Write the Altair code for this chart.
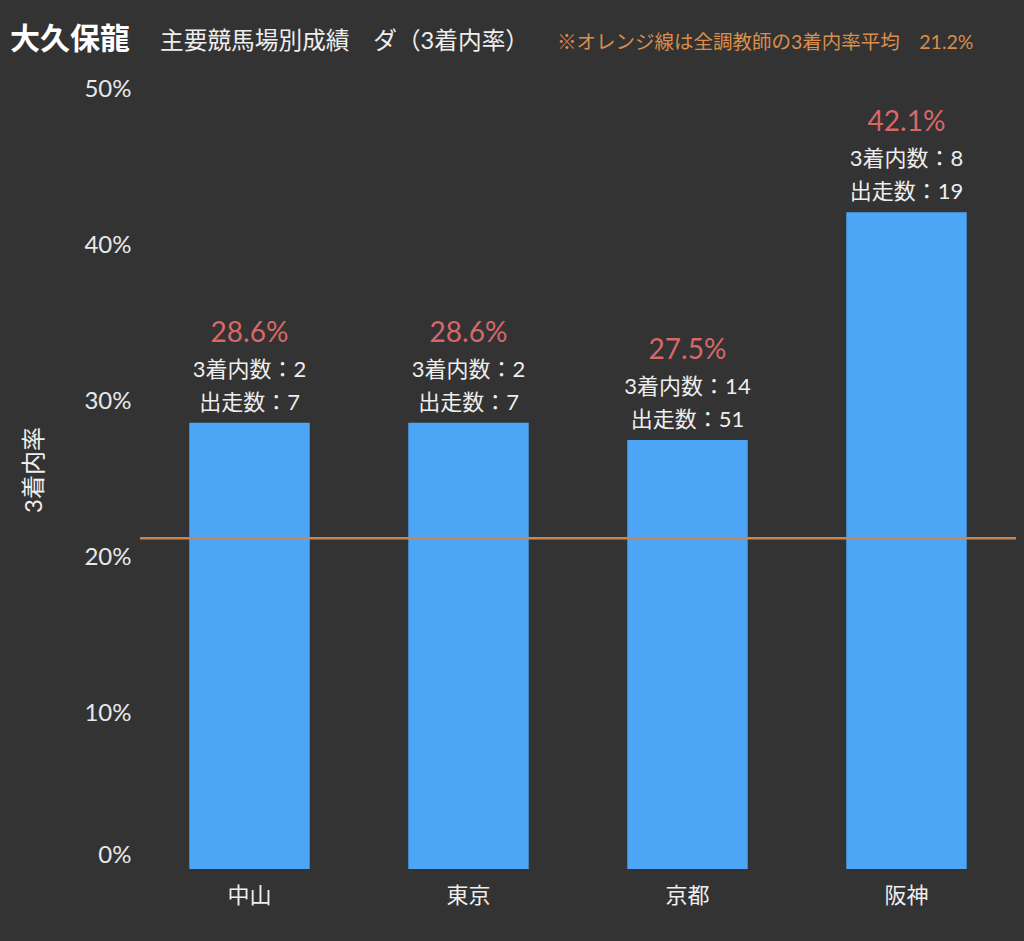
import altair as alt
import pandas as pd

venues = ["中山", "東京", "京都", "阪神"]
rates = [28.6, 28.6, 27.5, 42.1]
top3_counts = [2, 2, 14, 8]
start_counts = [7, 7, 51, 19]
overall_avg = 21.2

title_main = "大久保龍"
title_sub = "主要競馬場別成績　ダ（3着内率）"
note_text = "※オレンジ線は全調教師の3着内率平均　21.2%"
y_title = "3着内率"

FONT = "Lato, 'Noto Sans CJK JP', sans-serif"
BG = "#333333"

df = pd.DataFrame({
    "venue": venues,
    "rate": rates,
    "top3": top3_counts,
    "starts": start_counts,
})
df["rate_label"] = df["rate"].map(lambda v: f"{v:.1f}%")
df["top3_label"] = df["top3"].map(lambda v: f"3着内数：{v}")
df["starts_label"] = df["starts"].map(lambda v: f"出走数：{v}")

x_enc = alt.X(
    "venue:N",
    sort=venues,
    scale=alt.Scale(paddingInner=0.45, paddingOuter=0.225),
    axis=alt.Axis(
        title=None, labelAngle=0, labelFontSize=22, labelColor="#eeeeee",
        labelFont=FONT, labelPadding=16, domain=False, ticks=False,
    ),
)
y_enc = alt.Y(
    "rate:Q",
    scale=alt.Scale(domain=[0, 50], nice=False),
    axis=alt.Axis(
        title=None, values=[0, 10, 20, 30, 40, 50],
        labelExpr="datum.value + '%'",
        labelFontSize=24, labelColor="#e8e8e8", labelFont=FONT,
        labelPadding=9, grid=False, domain=False, ticks=False,
        labelOffset={"condition": {"test": "datum.value == 0", "value": -14}, "value": 0},
    ),
)

base = alt.Chart(df)

bars = base.mark_bar(color="#4da6f5").encode(x=x_enc, y=y_enc)

rule = alt.Chart(pd.DataFrame({"avg": [overall_avg]})).mark_rule(
    color="#c9874f", strokeWidth=2.5
).encode(y=alt.Y("avg:Q", scale=alt.Scale(domain=[0, 50], nice=False)))

pct_text = base.mark_text(
    baseline="middle", dy=-89, fontSize=28, color="#d86868", font=FONT
).encode(x=alt.X("venue:N", sort=venues), y="rate:Q", text="rate_label:N")

top3_text = base.mark_text(
    baseline="middle", dy=-53, fontSize=22, color="#eeeeee", font=FONT
).encode(x=alt.X("venue:N", sort=venues), y="rate:Q", text="top3_label:N")

starts_text = base.mark_text(
    baseline="middle", dy=-20, fontSize=22, color="#eeeeee", font=FONT
).encode(x=alt.X("venue:N", sort=venues), y="rate:Q", text="starts_label:N")

one = pd.DataFrame({"t": [0]})
t_main = alt.Chart(one).mark_text(
    align="left", baseline="middle", fontSize=30, fontWeight="bold",
    color="#ffffff", font=FONT
).encode(x=alt.value(-130), y=alt.value(-49), text=alt.value(title_main))
t_sub = alt.Chart(one).mark_text(
    align="left", baseline="middle", fontSize=23.7, color="#eeeeee", font=FONT
).encode(x=alt.value(20), y=alt.value(-47), text=alt.value(title_sub))
t_note = alt.Chart(one).mark_text(
    align="left", baseline="middle", fontSize=19.5, color="#d98e4c", font=FONT
).encode(x=alt.value(417), y=alt.value(-46), text=alt.value(note_text))
t_ytitle = alt.Chart(one).mark_text(
    align="center", baseline="middle", fontSize=24, angle=270,
    color="#eeeeee", font=FONT
).encode(x=alt.value(-105), y=alt.value(381), text=alt.value(y_title))

chart = alt.layer(
    bars, rule, pct_text, top3_text, starts_text, t_main, t_sub, t_note, t_ytitle
).properties(
    width=876, height=780,
    autosize=alt.AutoSizeParams(type="none"),
    padding={"left": 140, "top": 89, "right": 8, "bottom": 72},
    background=BG,
).configure_view(stroke=None)

chart.save("out.html", embed_options={"renderer": "svg", "actions": False})
